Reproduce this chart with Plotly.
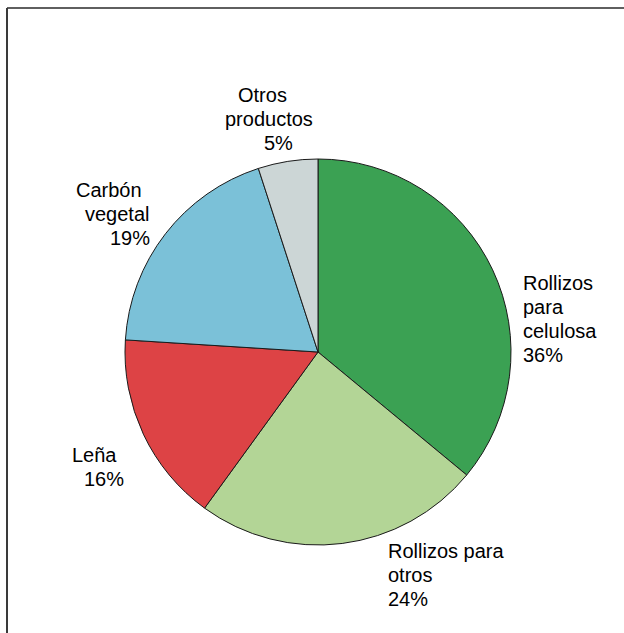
import plotly.graph_objects as go

# Destino de la producción forestal (% del volumen)
categorias = ["Rollizos para celulosa", "Rollizos para otros", "Leña",
              "Carbón vegetal", "Otros productos"]
valores = [36, 24, 16, 19, 5]
colores = ["#3BA153", "#B3D596", "#DD4345", "#7BC1D8", "#CCD6D6"]

# Cómo se parte cada etiqueta en líneas (antes del porcentaje)
lineas_nombre = [
    ["Rollizos", "para", "celulosa"],
    ["Rollizos para", "otros"],
    ["Leña"],
    ["Carbón", "vegetal"],
    ["Otros", "productos"],
]

W, H = 624, 633
FONT = "Liberation Sans, Arial, sans-serif"
FS = 20
INTERLINEA = 24

# Colocación de cada bloque de etiqueta (píxeles): ancla, x por línea, línea base inicial
colocacion = [
    {"anchor": "left", "xs": [522, 522, 522, 522], "y0": 290},
    {"anchor": "left", "xs": [387, 387, 387], "y0": 558},
    {"anchor": "center", "xs": [94, 104], "y0": 462},
    {"anchor": "center", "xs": [109, 117, 130], "y0": 197},
    {"anchor": "center", "xs": [262.5, 269, 278.5], "y0": 102},
]

fig = go.Figure(go.Pie(
    labels=categorias,
    values=valores,
    sort=False,
    direction="clockwise",
    rotation=0,
    marker=dict(colors=colores, line=dict(color="#1a1a1a", width=1)),
    textinfo="none",
    hoverinfo="label+percent",
    showlegend=False,
    domain=dict(x=[125 / W, 511 / W], y=[1 - 545 / H, 1 - 159 / H]),
))

total = sum(valores)
anotaciones = []
for nombre_lineas, v, pos in zip(lineas_nombre, valores, colocacion):
    lineas = nombre_lineas + [f"{round(100 * v / total)}%"]
    for i, (txt, px) in enumerate(zip(lineas, pos["xs"])):
        base = pos["y0"] + i * INTERLINEA
        anotaciones.append(dict(
            text=txt, showarrow=False,
            xref="paper", yref="paper",
            x=px / W, y=1 - (base - 7) / H,
            xanchor=pos["anchor"], yanchor="middle",
            borderpad=0,
            font=dict(family=FONT, size=FS, color="#000000"),
        ))

# Marco del gráfico (solo bordes superior e izquierdo visibles)
marco = [
    dict(type="line", xref="paper", yref="paper",
         x0=7 / W, x1=1.01, y0=1 - 8 / H, y1=1 - 8 / H,
         line=dict(color="#2a2a2a", width=1.5)),
    dict(type="line", xref="paper", yref="paper",
         x0=7 / W, x1=7 / W, y0=1 - 8 / H, y1=-0.01,
         line=dict(color="#3a3a3a", width=2)),
]

fig.update_layout(
    width=W, height=H,
    margin=dict(l=0, r=0, t=0, b=0),
    paper_bgcolor="white",
    plot_bgcolor="white",
    annotations=anotaciones,
    shapes=marco,
    font=dict(family=FONT, size=FS),
)

fig.write_html("out.html")
